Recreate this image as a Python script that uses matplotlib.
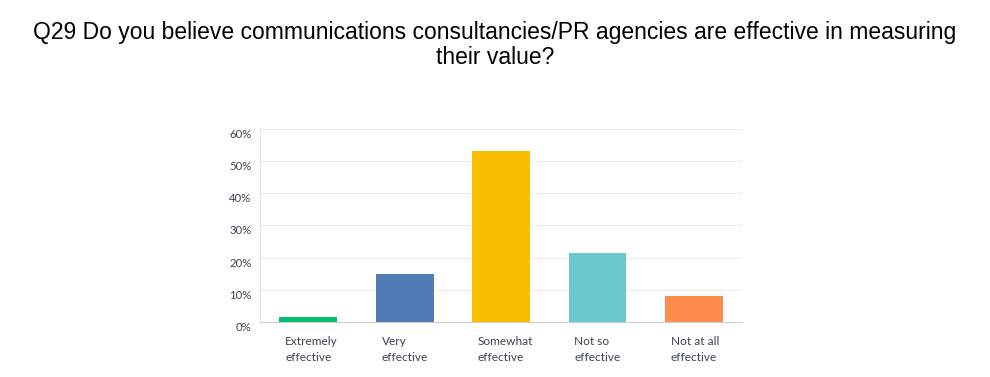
import matplotlib
matplotlib.use("Agg")
import matplotlib.pyplot as plt
import numpy as np

# survey answers and share of respondents (%)
categories = ["Extremely\neffective", "Very\neffective", "Somewhat\neffective",
              "Not so\neffective", "Not at all\neffective"]
values = [1.6, 14.8, 53.2, 21.3, 8.2]
colors = ["#00BF6F", "#507CB6", "#F9BE00", "#6BC8CD", "#FF8B4F"]
yticks = [0, 10, 20, 30, 40, 50, 60]

title = ("Q29 Do you believe communications consultancies/PR agencies are effective in measuring\n"
         "their value?")

fig = plt.figure(figsize=(9.9, 3.77), dpi=100)
ax = fig.add_axes([0.2626, 0.1459, 0.487, 0.512])

x = np.arange(len(categories))
ax.bar(x, values, width=0.6, color=colors, zorder=3)

ax.set_xlim(-0.5, len(categories) - 0.5)
ax.set_ylim(0, 60)
ax.set_yticks(yticks)
ax.set_yticklabels([f"{t}%" for t in yticks], fontsize=8.2, color="#3b4650",
                   family="Lato")
# labels hang just below their gridlines in the reference
for lab in ax.get_yticklabels():
    lab.set_va("top")
ax.yaxis.grid(True, color="#ececec", linewidth=0.8, zorder=0)
ax.tick_params(axis="y", length=0, pad=6)
ax.tick_params(axis="x", length=0)
ax.set_xticks([])

# left-aligned category labels under each bar
for i, lab in enumerate(categories):
    ax.text(i - 0.24, -4.4, lab, ha="left", va="top", fontsize=8.6,
            color="#3b4650", family="Lato", linespacing=1.55)

for s in ["top", "right"]:
    ax.spines[s].set_visible(False)
ax.spines["left"].set_color("#e4e4e4")
ax.spines["bottom"].set_color("#cfcfcf")

fig.text(0.5, 0.945, title, ha="center", va="top", fontsize=16.5,
         family="Liberation Sans", color="#000000", linespacing=1.12)

fig.savefig("out.png", dpi=100)
